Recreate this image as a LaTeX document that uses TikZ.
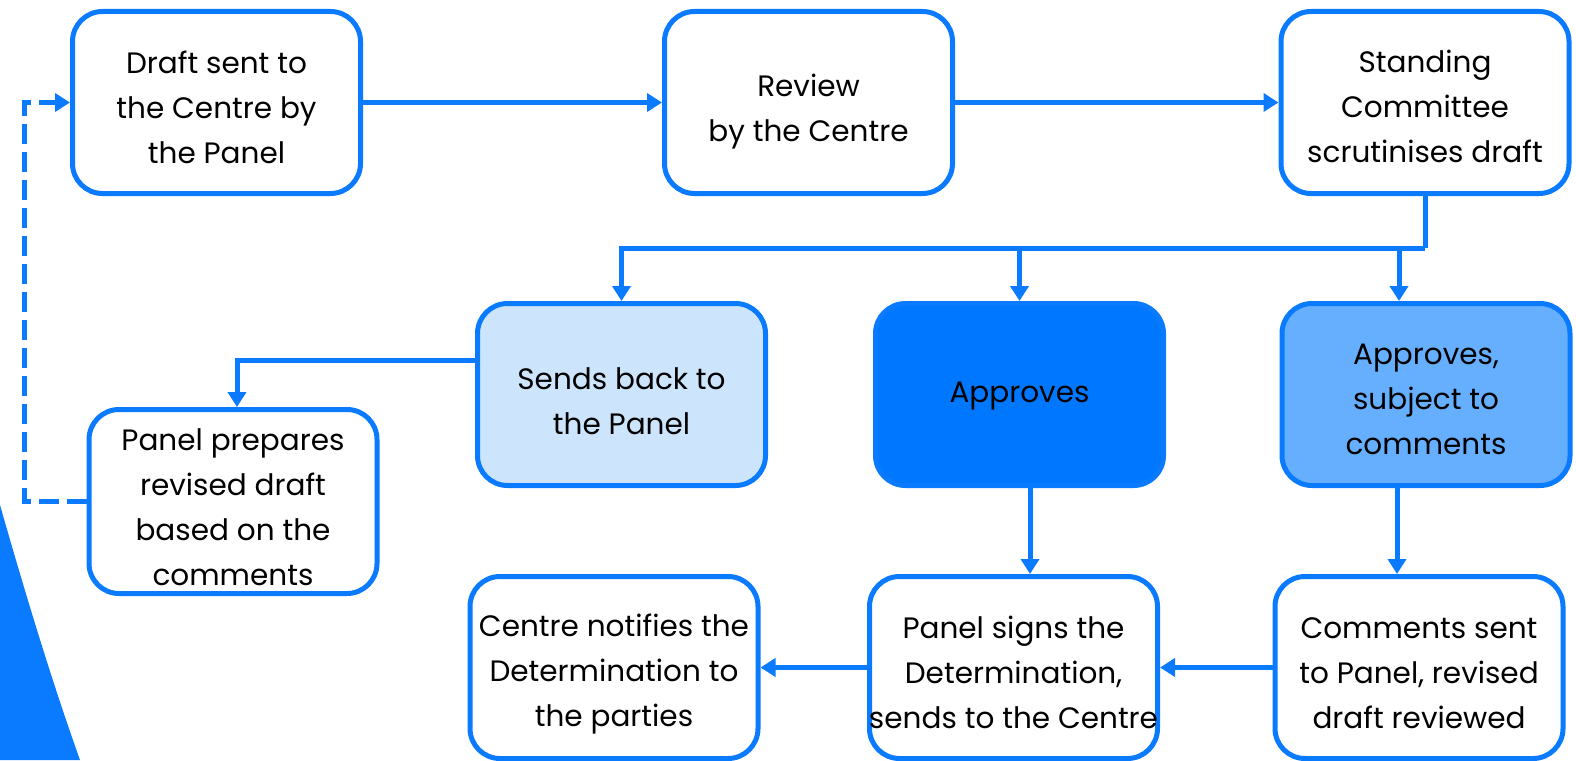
\documentclass[tikz,border=0pt]{standalone}
\usepackage{fontspec}
\setmainfont{Poppins}
\usetikzlibrary{arrows.meta}
\definecolor{bl}{HTML}{0A7BFF}
\definecolor{lightfill}{HTML}{CCE5FC}
\definecolor{midfill}{HTML}{66AFFF}
\definecolor{darkfill}{HTML}{0077FF}
\tikzset{
  stepbox/.style={draw=bl, line width=5pt, rounded corners=30pt, fill=white,
    minimum width=288pt, minimum height=182pt, inner sep=0pt},
  steptext/.style={align=center, inner sep=0pt, text=black,
    font=\fontsize{29.5}{45}\selectfont},
  arr/.style={draw=bl, line width=5pt, -{Triangle[length=15pt,width=18pt]}},
  plain/.style={draw=bl, line width=5pt},
  dashline/.style={draw=bl, line width=5pt, dash pattern=on 20pt off 8pt, -{Triangle[length=15pt,width=18pt]}}
}
\newcommand\boxtext[3]{\node[steptext] (#1-t) at ([yshift=-#2pt]#1.center) {#3};}
\begin{document}
\begin{tikzpicture}[x=1pt,y=-1pt]
\useasboundingbox (0,0) rectangle (1576,760);
% corner decoration
\fill[bl] (0,505) .. controls (30,610) and (55,690) .. (80,760) -- (0,760) -- cycle;

\node[stepbox] (draft) at (216.5,102.5) {};
\node[stepbox] (review) at (808.5,102.5) {};
\node[stepbox] (stand) at (1425,102.5) {};
\node[stepbox, fill=lightfill] (sends) at (621.5,394.5) {};
\node[stepbox, fill=darkfill] (appr) at (1019.5,394.5) {};
\node[stepbox, fill=midfill] (asubj) at (1426,394.5) {};
\node[stepbox, minimum height=184pt] (prep) at (233,501.5) {};
\node[stepbox] (notif) at (614,667.5) {};
\node[stepbox] (signs) at (1013.5,667.5) {};
\node[stepbox] (comm) at (1419,667.5) {};

\boxtext{draft}{4.5}{Draft sent to\\the Centre by\\the Panel}
\boxtext{review}{9}{Review\\by the Centre}
\boxtext{stand}{4}{Standing\\Committee\\scrutinises draft}
\boxtext{sends}{7}{Sends back to\\the Panel}
\boxtext{appr}{2}{Approves}
\boxtext{asubj}{4.5}{Approves,\\subject to\\comments}
\boxtext{prep}{5.5}{Panel prepares\\revised draft\\based on the\\comments}
\boxtext{notif}{7}{Centre notifies the\\Determination to\\the parties}
\boxtext{signs}{4.5}{Panel signs the\\Determination,\\sends to the Centre}
\boxtext{comm}{5.5}{Comments sent\\to Panel, revised\\draft reviewed}

% top row
\draw[arr] (draft) -- (review);
\draw[arr] (review) -- (stand);

% branching
\coordinate (j) at (1425,248);
\coordinate (b3) at (1399,248);
\draw[plain] (stand.south) -- (j);
\draw[arr] (j) -| (sends.north);
\draw[arr] (appr.north |- j) -- (appr.north);
\draw[arr] (b3) -- (b3 |- asubj.north);

% sends back to prepare
\coordinate (s1) at ([yshift=34.5pt]sends.west);
\coordinate (pn) at ([xshift=4pt]prep.north);
\draw[arr] (s1) -| (pn);

% dashed loop
\coordinate (dl) at (24,0);
\draw[dashline] (prep.west) -| (dl |- draft.west) -- (draft.west);

% down arrows
\coordinate (a4) at ([xshift=10.5pt]appr.south);
\draw[arr] (a4) -- (a4 |- signs.north);
\coordinate (a5) at (1397,0);
\draw[arr] (a5 |- asubj.south) -- (a5 |- comm.north);

% bottom row
\draw[arr] (comm) -- (signs);
\draw[arr] (signs) -- (notif);
\end{tikzpicture}
\end{document}
